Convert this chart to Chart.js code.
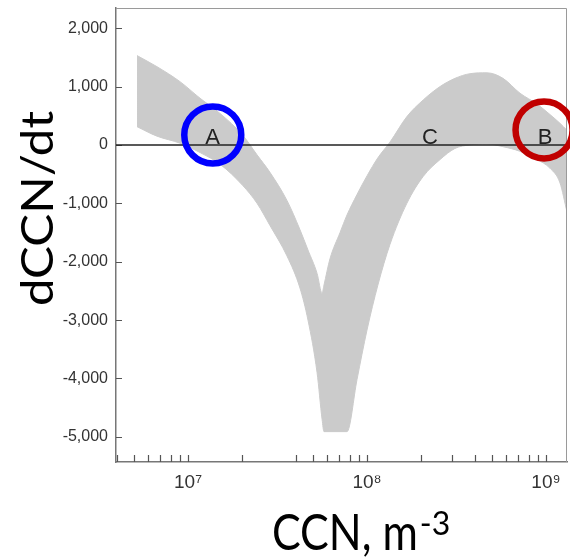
<!DOCTYPE html>
<html>
<head>
<meta charset="utf-8">
<script src="https://cdn.jsdelivr.net/npm/chart.js@4.4.1/dist/chart.umd.min.js"></script>
<style>
  html, body { margin: 0; padding: 0; background: #fff; }
  #wrap { width: 570px; height: 557px; }
</style>
</head>
<body>
<div id="wrap"><canvas id="rateChart"></canvas></div>
<script>
// CCN (m^-3) sample points along the shaded band
const ccn = [5.19e6, 6.71e6, 9.02e6, 1.167e7, 1.509e7, 2.03e7, 2.43e7, 2.87e7, 3.57e7, 4.22e7, 4.68e7,
  5.26e7, 5.61e7, 5.75e7, 6.21e7, 7.07e7, 7.73e7, 8.79e7, 1.0e8, 1.15e8, 1.345e8, 1.67e8, 2.06e8,
  2.56e8, 3.10e8, 3.76e8, 4.68e8, 5.75e8, 7.16e8, 8.91e8, 1.053e9, 1.197e9, 1.31e9];
// upper and lower edge of dCCN/dt
const rateHigh = [1530, 1340, 1084, 800, 540, 160, -170, -470, -950, -1450, -1800,
  -2200, -2540, -2400, -1950, -1500, -1200, -850, -530, -220, 50, 485, 770,
  1000, 1140, 1220, 1235, 1140, 885, 700, 520, 370, 250];
const rateLow = [313, 150, 30, -130, -330, -700, -1000, -1380, -1900, -2450, -3000,
  -3900, -4700, -4910, -4910, -4910, -4910, -4020, -3170, -2400, -1700, -1000, -540,
  -250, -60, 0, 15, -30, -110, -250, -400, -650, -1150];

// axis ticks
const xTicks = [4e6, 5e6, 6e6, 7e6, 8e6, 9e6, 1e7, 2e7, 4e7, 5e7, 6e7, 7e7, 8e7, 9e7,
  1e8, 2e8, 3e8, 4e8, 5e8, 6e8, 7e8, 8e8, 9e8, 1e9];
const yTicks = [-5000, -4000, -3000, -2000, -1000, 0, 1000, 2000];

// equilibrium points A, C, B and the rings round A and B
const markNames = ['A', 'C', 'B'];
const markCcn = [1.37e7, 2.25e8, 9.87e8];
const markRate = [20, 20, 20];
const ringCcn = [1.375e7, 9.75e8];
const ringRate = [171, 257];
const ringColors = ['#0000ff', '#c00000'];

const sup = {7: '\u2077', 8: '\u2078', 9: '\u2079'};

const annotate = {
  id: 'annotate',
  afterDatasetsDraw(chart) {
    const {ctx, chartArea: area} = chart;
    const x = chart.scales.x, y = chart.scales.y;
    ctx.save();

    // top and right frame
    ctx.strokeStyle = '#9a9a9a';
    ctx.lineWidth = 1;
    ctx.beginPath();
    ctx.moveTo(area.left, area.top + 0.5);
    ctx.lineTo(area.right - 0.5, area.top + 0.5);
    ctx.lineTo(area.right - 0.5, area.bottom);
    ctx.stroke();

    // tick marks point into the plot
    ctx.strokeStyle = '#555';
    ctx.lineWidth = 1.2;
    ctx.beginPath();
    xTicks.forEach(v => {
      const px = Math.round(x.getPixelForValue(v)) + 0.5;
      ctx.moveTo(px, area.bottom);
      ctx.lineTo(px, area.bottom - 7);
    });
    yTicks.forEach(v => {
      const py = Math.round(y.getPixelForValue(v)) + 0.5;
      ctx.moveTo(area.left, py);
      ctx.lineTo(area.left + 6, py);
    });
    ctx.stroke();

    // zero line
    const y0 = y.getPixelForValue(0);
    ctx.strokeStyle = '#222';
    ctx.lineWidth = 1.6;
    ctx.beginPath();
    ctx.moveTo(area.left, y0);
    ctx.lineTo(area.right, y0);
    ctx.stroke();

    // point letters
    ctx.fillStyle = '#222';
    ctx.font = '22px "Liberation Sans", Arial, sans-serif';
    ctx.textAlign = 'center';
    ctx.textBaseline = 'alphabetic';
    markNames.forEach((t, i) => {
      ctx.fillText(t, x.getPixelForValue(markCcn[i]), y.getPixelForValue(markRate[i]));
    });

    // rings
    ctx.lineWidth = 6.5;
    ringCcn.forEach((v, i) => {
      ctx.strokeStyle = ringColors[i];
      ctx.beginPath();
      ctx.arc(x.getPixelForValue(v), y.getPixelForValue(ringRate[i]), 28.5, 0, Math.PI * 2);
      ctx.stroke();
    });

    // axis titles
    ctx.fillStyle = '#000';
    ctx.save();
    ctx.translate(53, 208.5);
    ctx.rotate(-Math.PI / 2);
    ctx.scale(1.12, 1);
    ctx.font = '44px Lato, sans-serif';
    ctx.textAlign = 'center';
    ctx.fillText('dCCN/dt', 0, 0);
    ctx.restore();

    ctx.save();
    ctx.translate(area.left + 156, 550);
    ctx.scale(0.86, 1);
    ctx.textAlign = 'left';
    ctx.font = '50px Lato, sans-serif';
    ctx.fillText('CCN, m', 0, 0);
    const w = ctx.measureText('CCN, m').width * 0.86;
    ctx.restore();
    ctx.textAlign = 'left';
    ctx.font = '32px Lato, sans-serif';
    ctx.fillText('-3', area.left + 156 + w + 2, 535);

    ctx.restore();
  }
};

new Chart(document.getElementById('rateChart'), {
  type: 'line',
  data: {
    datasets: [{
      data: ccn.map((c, i) => ({x: c, y: rateLow[i]})),
      borderColor: '#cbcbcb',
      borderWidth: 1,
      pointRadius: 0,
      cubicInterpolationMode: 'monotone',
      fill: false
    }, {
      data: ccn.map((c, i) => ({x: c, y: rateHigh[i]})),
      borderColor: '#cbcbcb',
      backgroundColor: '#cbcbcb',
      borderWidth: 1,
      pointRadius: 0,
      cubicInterpolationMode: 'monotone',
      fill: '-1'
    }]
  },
  options: {
    responsive: true,
    maintainAspectRatio: false,
    animation: false,
    layout: {padding: {top: 8, right: 3, left: 0, bottom: 0}},
    plugins: {legend: {display: false}, tooltip: {enabled: false}},
    scales: {
      x: {
        type: 'logarithmic',
        min: 3.96e6,
        max: 1.31e9,
        afterBuildTicks: s => { s.ticks = xTicks.map(v => ({value: v})); },
        afterFit: s => { s.height = 95; s.paddingLeft = 0; s.paddingRight = 0; },
        grid: {display: false, drawTicks: false},
        border: {color: '#777', width: 1.5},
        ticks: {
          autoSkip: false,
          maxRotation: 0,
          padding: 9,
          color: '#333',
          font: {family: '"Liberation Sans", Arial, sans-serif', size: 19},
          callback: v => {
            const e = Math.round(Math.log10(v));
            return Math.abs(Math.log10(v) - e) < 1e-9 ? '10' + sup[e] : '';
          }
        }
      },
      y: {
        min: -5430,
        max: 2345,
        afterBuildTicks: s => { s.ticks = yTicks.map(v => ({value: v})); },
        afterFit: s => { s.width = 116; s.paddingTop = 0; s.paddingBottom = 0; },
        grid: {display: false, drawTicks: false},
        border: {color: '#777', width: 1.5},
        ticks: {
          padding: 8,
          color: '#333',
          font: {family: '"Liberation Sans", Arial, sans-serif', size: 16},
          callback: v => v.toLocaleString('en-US')
        }
      }
    }
  },
  plugins: [annotate]
});
</script>
</body>
</html>
